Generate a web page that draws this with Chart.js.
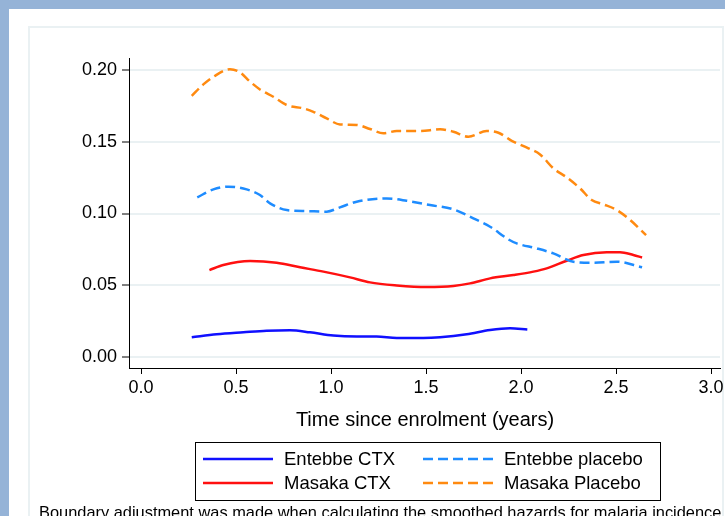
<!DOCTYPE html>
<html>
<head>
<meta charset="utf-8">
<script src="https://cdn.jsdelivr.net/npm/chart.js@4"></script>
<style>
  html, body { margin: 0; padding: 0; background: #95b3d7; }
  #wrap { width: 725px; height: 516px; position: relative; }
</style>
</head>
<body>
<div id="wrap"><canvas id="hazardChart"></canvas></div>
<script>
// tick labels
const xTicks = [0, 0.5, 1, 1.5, 2, 2.5, 3];
const yTicks = [0, 0.05, 0.10, 0.15, 0.20];

// Entebbe CTX (solid blue)
const entCtxX = [0.267, 0.398, 0.539, 0.661, 0.784, 0.889, 1.012, 1.135, 1.24, 1.346, 1.486, 1.574, 1.714, 1.837, 1.942, 2.033];
const entCtxY = [0.0137, 0.0158, 0.0172, 0.0183, 0.0186, 0.0172, 0.0149, 0.0142, 0.0142, 0.0132, 0.0132, 0.0137, 0.0158, 0.0188, 0.0200, 0.0192];

// Entebbe placebo (dashed light blue)
const entPlaX = [0.296, 0.381, 0.46, 0.556, 0.626, 0.679, 0.767, 0.872, 0.977, 1.047, 1.135, 1.293, 1.398, 1.521, 1.644, 1.749, 1.837, 1.933, 1.977, 2.082, 2.17, 2.275, 2.381, 2.504, 2.637];
const entPlaY = [0.1113, 0.1168, 0.1187, 0.1168, 0.1129, 0.1071, 0.1024, 0.1017, 0.1013, 0.1043, 0.1082, 0.1105, 0.1089, 0.1059, 0.1029, 0.0967, 0.0908, 0.0820, 0.0792, 0.0757, 0.0722, 0.0664, 0.0657, 0.0664, 0.0625];

// Masaka CTX (solid red)
const masCtxX = [0.36, 0.433, 0.574, 0.714, 0.837, 0.96, 1.1, 1.205, 1.346, 1.504, 1.644, 1.732, 1.837, 1.96, 2.065, 2.135, 2.24, 2.328, 2.451, 2.521, 2.591, 2.637];
const masCtxY = [0.0606, 0.0641, 0.0669, 0.0657, 0.0625, 0.0595, 0.0555, 0.0520, 0.0499, 0.0488, 0.0495, 0.0513, 0.0548, 0.0571, 0.0595, 0.0618, 0.0671, 0.0711, 0.0730, 0.0730, 0.0711, 0.0694];

// Masaka Placebo (dashed orange)
const masPlaX = [0.267, 0.328, 0.381, 0.468, 0.521, 0.574, 0.626, 0.696, 0.767, 0.854, 0.907, 0.977, 1.047, 1.135, 1.205, 1.275, 1.346, 1.468, 1.574, 1.644, 1.723, 1.819, 1.881, 1.951, 2.039, 2.10, 2.17, 2.24, 2.31, 2.372, 2.433, 2.504, 2.574, 2.658];
const masPlaY = [0.182, 0.190, 0.1953, 0.2005, 0.1984, 0.1919, 0.1865, 0.1814, 0.1756, 0.1733, 0.1709, 0.1663, 0.1621, 0.1617, 0.1589, 0.1559, 0.1575, 0.1575, 0.1587, 0.1570, 0.1535, 0.1575, 0.1563, 0.1507, 0.1454, 0.1412, 0.1315, 0.1252, 0.1176, 0.1094, 0.1064, 0.1024, 0.0955, 0.0850];

const FONT = "'Liberation Sans', Arial, sans-serif";

function pts(xs, ys) {
    return xs.map((x, i) => ({ x: x, y: ys[i] }));
}

function series(label, xs, ys, color, dash) {
    return {
        label: label,
        data: pts(xs, ys),
        borderColor: color,
        borderWidth: 2.5,
        borderDash: dash,
        pointRadius: 0,
        fill: false,
        cubicInterpolationMode: 'monotone'
    };
}

// Stata-like frame: blue outer, white inner, faint plot region border
const backdrop = {
    id: 'backdrop',
    beforeDraw(chart) {
        const c = chart.ctx;
        c.save();
        c.fillStyle = '#95b3d7';
        c.fillRect(0, 0, chart.width, chart.height);
        c.fillStyle = '#ffffff';
        c.fillRect(9, 9, chart.width - 9, chart.height - 9);
        c.strokeStyle = '#eaf1f3';
        c.lineWidth = 2;
        c.strokeRect(29, 27, 694, 600);
        c.restore();
    }
};

// axis title, boxed legend, note
const extras = {
    id: 'extras',
    afterDraw(chart) {
        const c = chart.ctx;
        c.save();
        c.fillStyle = '#000';
        c.textBaseline = 'middle';
        c.textAlign = 'center';
        c.font = '20px ' + FONT;
        c.fillText('Time since enrolment (years)', 425, 420);

        // legend box
        c.fillStyle = '#fff';
        c.fillRect(195, 442, 465, 58);
        c.strokeStyle = '#000';
        c.lineWidth = 1;
        c.strokeRect(195.5, 442.5, 465, 58);

        const slots = [[203, 459], [423, 459], [203, 483], [423, 483]];
        chart.data.datasets.forEach((ds, i) => {
            const [lx, ly] = slots[i];
            c.strokeStyle = ds.borderColor;
            c.lineWidth = 2.5;
            c.setLineDash(ds.borderDash || []);
            c.beginPath();
            c.moveTo(lx, ly);
            c.lineTo(lx + 70, ly);
            c.stroke();
            c.setLineDash([]);
            c.fillStyle = '#000';
            c.textAlign = 'left';
            c.font = '18.5px ' + FONT;
            c.fillText(ds.label, lx + 81, ly + 1);
        });

        c.textBaseline = 'alphabetic';
        c.font = '16.4px ' + FONT;
        c.fillText('Boundary adjustment was made when calculating the smoothed hazards for malaria incidence', 39, 518);
        c.restore();
    }
};

const ctx = document.getElementById('hazardChart').getContext('2d');
new Chart(ctx, {
    type: 'line',
    data: {
        datasets: [
            series('Entebbe CTX', entCtxX, entCtxY, '#1010ff', []),
            series('Entebbe placebo', entPlaX, entPlaY, '#1e8cff', [10, 5]),
            series('Masaka CTX', masCtxX, masCtxY, '#ff1010', []),
            series('Masaka Placebo', masPlaX, masPlaY, '#ff8a10', [10, 5])
        ]
    },
    options: {
        responsive: true,
        maintainAspectRatio: false,
        animation: false,
        layout: { padding: { top: 58, right: 5, bottom: 0, left: 0 } },
        plugins: { legend: { display: false }, tooltip: { enabled: false } },
        scales: {
            x: {
                type: 'linear',
                min: -0.0632,
                max: 3.047,
                afterBuildTicks: s => { s.ticks = xTicks.map(v => ({ value: v })); },
                afterFit: s => { s.height = 148; s.paddingLeft = 0; s.paddingRight = 0; },
                ticks: {
                    autoSkip: false, maxRotation: 0, padding: 3, color: '#000',
                    font: { family: FONT, size: 18 },
                    callback: v => v.toFixed(1)
                },
                grid: { drawOnChartArea: false, tickLength: 6, tickColor: '#000', tickWidth: 1 },
                border: { color: '#000', width: 1 }
            },
            y: {
                min: -0.00767,
                max: 0.2084,
                afterBuildTicks: s => { s.ticks = yTicks.map(v => ({ value: v })); },
                afterFit: s => { s.width = 129; s.paddingTop = 0; s.paddingBottom = 0; },
                ticks: {
                    autoSkip: false, padding: 5, color: '#000',
                    font: { family: FONT, size: 18 },
                    callback: v => v.toFixed(2)
                },
                grid: { color: '#eaf1f3', lineWidth: 2, tickLength: 7, tickColor: '#000', tickWidth: 1 },
                border: { color: '#000', width: 1 }
            }
        }
    },
    plugins: [backdrop, extras]
});
</script>
</body>
</html>
